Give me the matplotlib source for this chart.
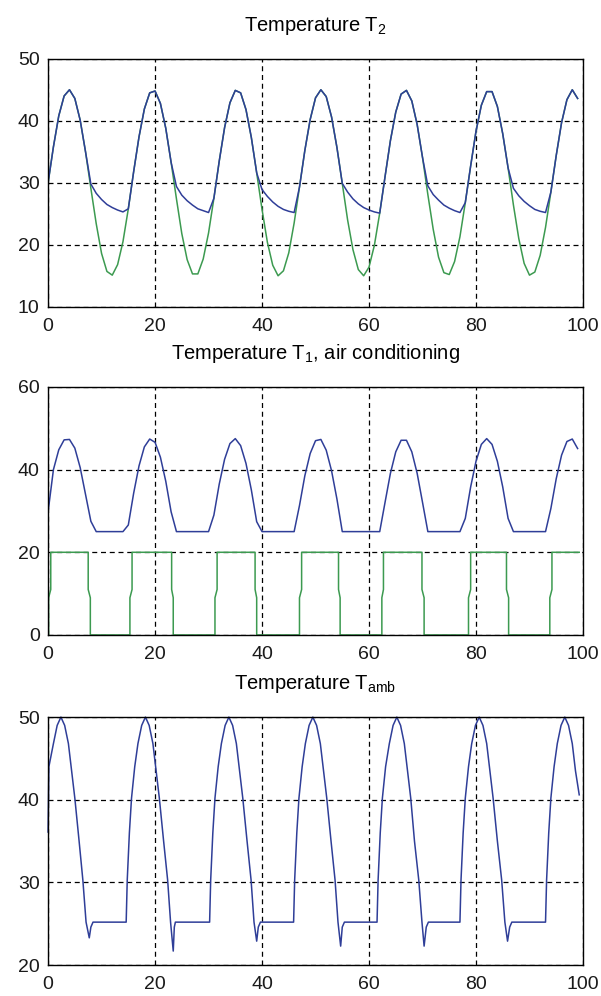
import matplotlib

matplotlib.use("Agg")
import matplotlib.pyplot as plt
import numpy as np

plt.rcParams["font.family"] = ["Liberation Sans", "DejaVu Sans"]

BLUE = "#2f3e98"
GREEN = "#3c9a50"

# time grid shared by the sampled series
t_grid = list(range(100))

# Temperature T2 (green: without regulation, blue: regulated)
t2_green = [30.0, 35.8, 40.8, 44.0, 45.0, 43.6, 40.1, 35.0, 29.1, 23.4,
            18.6, 15.7, 15.1, 16.8, 20.5, 25.8, 31.8, 37.4, 41.9, 44.5,
            44.8, 42.8, 38.8, 33.3, 27.4, 21.8, 17.6, 15.3, 15.3, 17.7,
            21.9, 27.5, 33.5, 38.9, 42.9, 44.9, 44.5, 41.8, 37.3, 31.6,
            25.7, 20.4, 16.7, 15.0, 15.8, 18.7, 23.5, 29.3, 35.2, 40.2,
            43.7, 45.0, 43.9, 40.6, 35.7, 29.9, 24.0, 19.2, 16.0, 15.0,
            16.4, 19.9, 25.1, 31.0, 36.8, 41.4, 44.3, 44.9, 43.2, 39.4,
            34.1, 28.1, 22.5, 18.0, 15.5, 15.2, 17.3, 21.3, 26.8, 32.7,
            38.3, 42.5, 44.7, 44.7, 42.3, 37.9, 32.4, 26.4, 21.0, 17.0,
            15.1, 15.6, 18.3, 22.8, 28.5, 34.4, 39.7, 43.4, 45.0, 43.6]
t2_blue = [30.0, 35.8, 40.8, 44.0, 45.0, 43.6, 40.1, 35.0, 29.8, 28.3,
           27.3, 26.5, 26.0, 25.6, 25.3, 25.8, 31.8, 37.4, 41.9, 44.5,
           44.8, 42.8, 38.8, 33.3, 29.4, 28.0, 27.1, 26.4, 25.8, 25.5,
           25.2, 27.5, 33.5, 38.9, 42.9, 44.9, 44.5, 41.8, 37.3, 31.6,
           28.9, 27.8, 26.9, 26.2, 25.7, 25.4, 25.2, 29.3, 35.2, 40.2,
           43.7, 45.0, 43.9, 40.6, 35.7, 29.9, 28.5, 27.4, 26.6, 26.0,
           25.6, 25.3, 25.1, 31.0, 36.8, 41.4, 44.3, 44.9, 43.2, 39.4,
           34.1, 29.5, 28.1, 27.2, 26.4, 25.9, 25.5, 25.2, 26.8, 32.7,
           38.3, 42.5, 44.7, 44.7, 42.3, 37.9, 32.4, 29.1, 27.9, 27.0,
           26.3, 25.7, 25.4, 25.2, 28.5, 34.4, 39.7, 43.4, 45.0, 43.6]

# Temperature T1 with air conditioning
t1_blue = [29.8, 40.0, 44.8, 47.2, 47.3, 45.2, 40.5, 34.0, 27.5, 25.0,
           25.0, 25.0, 25.0, 25.0, 25.0, 26.6, 34.3, 40.9, 45.5, 47.4,
           46.6, 43.0, 37.2, 29.8, 25.0, 25.0, 25.0, 25.0, 25.0, 25.0,
           25.0, 29.0, 36.5, 42.5, 46.3, 47.5, 45.8, 41.5, 35.1, 27.4,
           25.0, 25.0, 25.0, 25.0, 25.0, 25.0, 25.0, 31.3, 38.5, 43.9,
           47.0, 47.3, 44.7, 39.7, 32.9, 25.0, 25.0, 25.0, 25.0, 25.0,
           25.0, 25.0, 25.0, 32.1, 39.1, 44.3, 47.1, 47.1, 44.3, 39.1,
           32.1, 25.0, 25.0, 25.0, 25.0, 25.0, 25.0, 25.0, 28.2, 35.8,
           42.0, 46.1, 47.5, 46.1, 42.0, 35.8, 28.2, 25.0, 25.0, 25.0,
           25.0, 25.0, 25.0, 25.0, 30.6, 37.8, 43.5, 46.8, 47.4, 45.1]

# air conditioning power (on/off with a short two-step edge)
ac_t = [0.0, 0.1, 0.1, 0.5, 0.5,
        7.5, 7.5, 7.9, 7.9, 15.3, 15.3, 15.7, 15.7,
        23.1, 23.1, 23.4, 23.4, 31.2, 31.2, 31.6, 31.6,
        38.7, 38.7, 39.0, 39.0, 47.0, 47.0, 47.4, 47.4,
        54.3, 54.3, 54.6, 54.6, 62.4, 62.4, 62.7, 62.7,
        69.9, 69.9, 70.3, 70.3, 78.6, 78.6, 79.0, 79.0,
        85.7, 85.7, 86.1, 86.1, 93.8, 93.8, 94.2, 94.2, 99.3]
ac_v = [0, 0, 9, 11, 20,
        20, 11, 9, 0, 0, 9, 11, 20,
        20, 11, 9, 0, 0, 9, 11, 20,
        20, 11, 9, 0, 0, 9, 11, 20,
        20, 11, 9, 0, 0, 9, 11, 20,
        20, 11, 9, 0, 0, 9, 11, 20,
        20, 11, 9, 0, 0, 9, 11, 20, 20]

# ambient temperature
tamb_t = [0.0, 0.15, 1.0, 1.7, 2.4, 3.1, 3.8, 4.4, 5.0, 5.8, 6.5, 7.1, 7.7, 8.0, 8.4,
          14.6, 14.8, 15.2, 15.6, 16.2, 16.8, 17.5, 18.2, 18.9, 19.6, 20.2, 20.8,
          21.6, 22.35, 22.9, 23.4, 23.6, 23.8,
          30.2, 30.4, 30.8, 31.2, 31.8, 32.4, 33.1, 33.8, 34.5, 35.2, 35.8, 36.4,
          37.2, 37.95, 38.5, 39.0, 39.3, 39.7,
          45.9, 46.1, 46.5, 46.9, 47.5, 48.1, 48.8, 49.5, 50.2, 50.9, 51.5, 52.1,
          52.9, 53.65, 54.2, 54.7, 55.0, 55.4,
          61.5, 61.7, 62.1, 62.5, 63.1, 63.8, 64.5, 65.2, 65.9, 66.6, 67.2, 67.8,
          68.5, 69.3, 69.9, 70.3, 70.7, 71.1,
          77.0, 77.2, 77.6, 78.0, 78.6, 79.2, 79.9, 80.6, 81.3, 82.0, 82.6, 83.2,
          84.0, 84.8, 85.4, 85.9, 86.3, 86.7,
          93.0, 93.2, 93.6, 94.0, 94.6, 95.2, 95.9, 96.6, 97.3, 98.0, 98.6, 99.3]
tamb_v = [36.1, 44.0, 46.8, 49.0, 50.0, 49.0, 46.8, 43.5, 40.2, 35.0, 30.3, 25.2, 23.3, 24.6, 25.2,
          25.2, 30.3, 36.0, 40.2, 44.0, 46.8, 49.0, 50.0, 49.0, 46.8, 43.5, 40.2,
          35.0, 30.3, 25.2, 21.7, 24.6, 25.2,
          25.2, 30.3, 36.0, 40.2, 44.0, 46.8, 49.0, 50.0, 49.0, 46.8, 43.5, 40.2,
          35.0, 30.3, 25.2, 22.9, 24.6, 25.2,
          25.2, 30.3, 36.0, 40.2, 44.0, 46.8, 49.0, 50.0, 49.0, 46.8, 43.5, 40.2,
          35.0, 30.3, 25.2, 22.3, 24.6, 25.2,
          25.2, 30.3, 36.0, 40.2, 44.0, 46.8, 49.0, 50.0, 49.0, 46.8, 43.5, 40.2,
          35.0, 30.3, 25.2, 22.3, 24.6, 25.2,
          25.2, 30.3, 36.0, 40.2, 44.0, 46.8, 49.0, 50.0, 49.0, 46.8, 43.5, 40.2,
          35.0, 30.3, 25.2, 22.9, 24.6, 25.2,
          25.2, 30.3, 36.0, 40.2, 44.0, 46.8, 49.0, 50.0, 49.0, 46.8, 43.5, 40.6]

titles = [r"Temperature $\mathregular{T_2}$",
          r"Temperature $\mathregular{T_1}$, air conditioning",
          r"Temperature $\mathregular{T_{amb}}$"]
yticks = [[10, 20, 30, 40, 50], [0, 20, 40, 60], [20, 30, 40, 50]]
xticks = [0, 20, 40, 60, 80, 100]


def style(ax, title, yt):
    ax.set_xlim(0, 100)
    ax.set_ylim(yt[0], yt[-1])
    ax.set_xticks(xticks)
    ax.set_yticks(yt)
    ax.grid(True, color="black", ls=(0, (4, 3)), lw=0.9)
    ax.set_axisbelow(True)
    ax.tick_params(direction="in", length=0, labelsize=14, colors="#1a1a1a")
    ax.tick_params(axis="x", pad=8)
    ax.tick_params(axis="y", pad=6)
    for sp in ax.spines.values():
        sp.set_linewidth(1.0)
    ax.set_title(title, fontsize=14.5, pad=20)


fig = plt.figure(figsize=(6.01, 9.96), dpi=100)
left, width, height = 0.080, 0.890, 0.249
ax1 = fig.add_axes([left, 0.692, width, height])
ax2 = fig.add_axes([left, 0.3625, width, height])
ax3 = fig.add_axes([left, 0.031, width, height])

ax1.plot(t_grid, t2_green, color=GREEN, lw=1.1)
ax1.plot(t_grid, t2_blue, color=BLUE, lw=1.1)
style(ax1, titles[0], yticks[0])

ax2.plot(t_grid, t1_blue, color=BLUE, lw=1.1)
ax2.plot(ac_t, ac_v, color=GREEN, lw=1.1)
style(ax2, titles[1], yticks[1])

ax3.plot(tamb_t, tamb_v, color=BLUE, lw=1.1, clip_on=False)
style(ax3, titles[2], yticks[2])

fig.savefig("out.png", dpi=100)
